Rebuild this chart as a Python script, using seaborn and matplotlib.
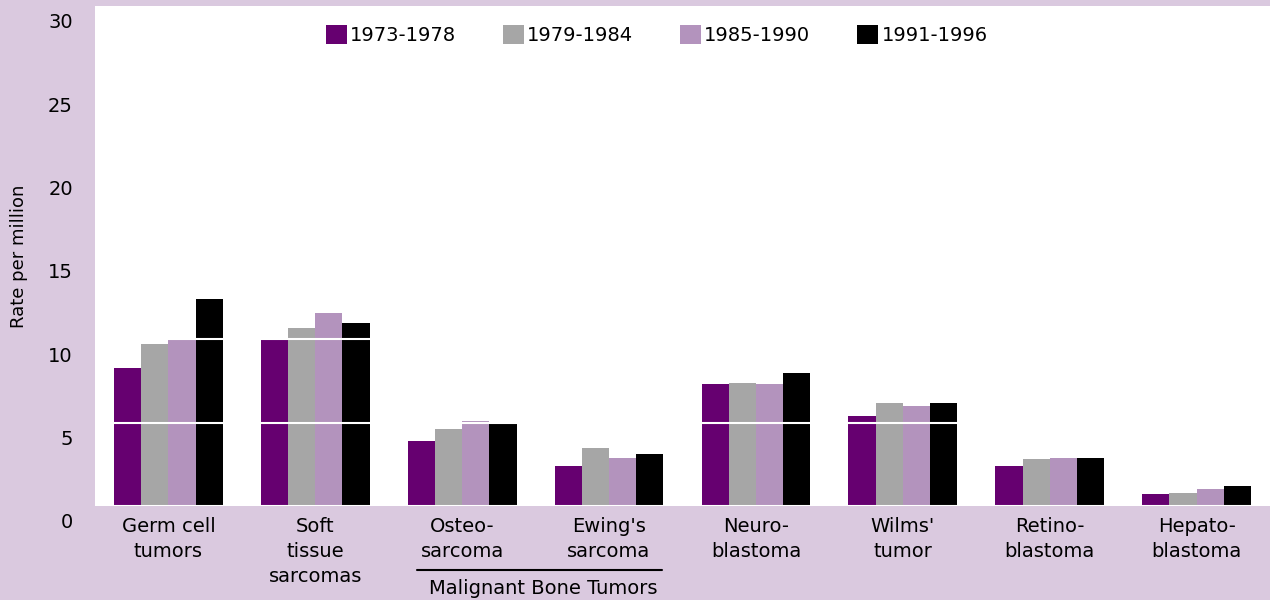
import matplotlib
matplotlib.use('Agg')
import matplotlib.pyplot as plt
import matplotlib.transforms as mtransforms
import pandas as pd
import seaborn as sns

categories = [
    'Germ cell\ntumors', 'Soft\ntissue\nsarcomas', 'Osteo-\nsarcoma', "Ewing's\nsarcoma",
    'Neuro-\nblastoma', "Wilms'\ntumor", 'Retino-\nblastoma', 'Hepato-\nblastoma',
]
periods = ['1973-1978', '1979-1984', '1985-1990', '1991-1996']

rate_1973 = [8.3, 10.1, 3.9, 2.4, 7.3, 5.4, 2.4, 0.7]
rate_1979 = [9.7, 10.7, 4.6, 3.5, 7.4, 6.2, 2.8, 0.8]
rate_1985 = [10.1, 11.6, 5.1, 2.9, 7.3, 6.0, 2.9, 1.0]
rate_1991 = [12.4, 11.0, 4.9, 3.1, 8.0, 6.2, 2.9, 1.2]

colors = ['#660070', '#a6a6a6', '#b393bd', '#000000']
bg = '#dac9df'

df = pd.DataFrame({
    'category': categories * 4,
    'period': [p for p in periods for _ in categories],
    'rate': rate_1973 + rate_1979 + rate_1985 + rate_1991,
})

sns.set_style('white')
plt.rcParams['font.family'] = ['DejaVu Sans']
plt.rcParams['text.color'] = 'black'
plt.rcParams['axes.labelcolor'] = 'black'
plt.rcParams['xtick.color'] = 'black'
plt.rcParams['ytick.color'] = 'black'

fig = plt.figure(figsize=(12.7, 6), dpi=100, facecolor=bg)
ax = fig.add_axes([95 / 1270, 94 / 600, 1 - 95 / 1270, 500 / 600])
ax.set_facecolor('white')

sns.barplot(
    data=df, x='category', y='rate', hue='period', order=categories,
    hue_order=periods, palette=colors, width=0.74, linewidth=0,
    saturation=1, errorbar=None, ax=ax,
)

ax.set_ylim(0, 30)
ax.set_xlim(-0.5, len(categories) - 0.5)
ax.set_yticks(range(0, 31, 5))
# white grid: only shows where it crosses the bars
ax.yaxis.grid(True, color='white', linewidth=1.5)
ax.set_axisbelow(False)
for s in ax.spines.values():
    s.set_visible(False)

ax.tick_params(axis='y', length=0, labelsize=14, pad=16)
ax.tick_params(axis='x', length=0, labelsize=14, pad=8)
for lbl in ax.get_xticklabels():
    lbl.set_linespacing(1.4)

# the y labels sit a bit lower than their values in the original
shift = mtransforms.ScaledTranslation(0, -15 / 100, fig.dpi_scale_trans)
for tick in ax.yaxis.get_major_ticks():
    tick.label1.set_transform(tick.label1.get_transform() + shift)

ax.set_xlabel('')
ax.set_ylabel('Rate per million', fontsize=13, labelpad=14)

# group bracket for the bone tumours
trans = ax.get_xaxis_transform()
ax.plot([1.69, 3.36], [-0.128, -0.128], color='black', linewidth=1.5,
        transform=trans, clip_on=False)
ax.text(2.55, -0.164, 'Malignant Bone Tumors', transform=trans,
        ha='center', va='center', fontsize=14)

ax.legend(
    loc='center', bbox_to_anchor=(0.478, 0.942), ncol=4, frameon=False,
    fontsize=14, handlelength=1.1, handleheight=1.1, handletextpad=0.15,
    columnspacing=2.4, title=None,
)

fig.savefig('out.png', dpi=100, facecolor=bg)
